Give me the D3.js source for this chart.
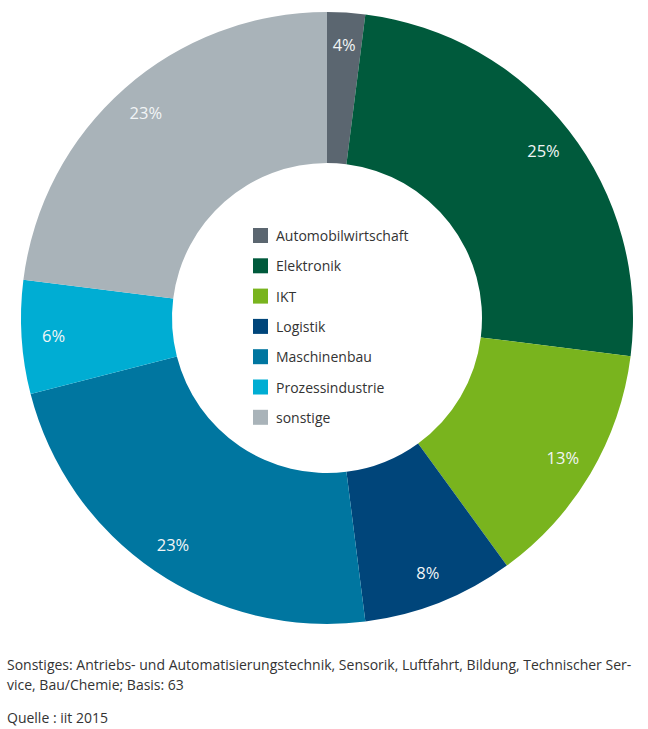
<!DOCTYPE html>
<html>
<head>
<meta charset="UTF-8">
<title>Branchen</title>
<script src="https://cdn.jsdelivr.net/npm/d3@7"></script>
<style>
    body { margin: 0; padding: 0; background: #fff; }
    svg { display: block; font-family: "Open Sans", Lato, sans-serif; }
</style>
</head>
<body>
<div id="chart"></div>
<script>
// categories and colours, in clockwise order from 12 o'clock
const categories = ["Automobilwirtschaft", "Elektronik", "IKT", "Logistik", "Maschinenbau", "Prozessindustrie", "sonstige"];
const colors = ["#5b6670", "#005a3c", "#79b41e", "#00457a", "#0076a0", "#00add3", "#a9b3b9"];
// slice sizes as drawn (the Automobil slice is drawn narrower than its label says)
const shares = [2, 25, 13, 8, 23, 6, 23];
// printed labels
const labels = ["4%", "25%", "13%", "8%", "23%", "6%", "23%"];

const footnote = [
    "Sonstiges: Antriebs- und Automatisierungstechnik, Sensorik, Luftfahrt, Bildung, Technischer Ser-",
    "vice, Bau/Chemie; Basis: 63"
];
const source = "Quelle : iit 2015";

const width = 648, height = 729;
const cx = 327, cy = 318;
const outerR = 306, innerR = 155, labelR = 274;

const svg = d3.select("#chart").append("svg")
    .attr("width", width)
    .attr("height", height);

const data = categories.map((c, i) => ({ name: c, value: shares[i], color: colors[i], label: labels[i] }));

const pie = d3.pie().sort(null).value(d => d.value);
const arc = d3.arc().innerRadius(innerR).outerRadius(outerR);
const labelArc = d3.arc().innerRadius(labelR).outerRadius(labelR);

const g = svg.append("g").attr("transform", `translate(${cx},${cy})`);
const arcs = pie(data);

g.selectAll("path")
    .data(arcs)
    .join("path")
    .attr("d", arc)
    .attr("fill", d => d.data.color);

g.selectAll("text.pct")
    .data(arcs)
    .join("text")
    .attr("class", "pct")
    .attr("transform", d => `translate(${labelArc.centroid(d)})`)
    .attr("text-anchor", "middle")
    .attr("dominant-baseline", "central")
    .attr("fill", "#f2f5f6")
    .attr("font-size", 16.5)
    .text(d => d.data.label);

// legend inside the hole
const legend = svg.append("g").attr("transform", "translate(253,228)");
const row = legend.selectAll("g")
    .data(data)
    .join("g")
    .attr("transform", (d, i) => `translate(0,${i * 30.3})`);
row.append("rect")
    .attr("width", 15)
    .attr("height", 15)
    .attr("fill", d => d.color);
row.append("text")
    .attr("x", 23)
    .attr("y", 7.5)
    .attr("dominant-baseline", "central")
    .attr("font-size", 14)
    .attr("fill", "#333")
    .text(d => d.name);

// footnote and source
svg.append("g").selectAll("text")
    .data(footnote)
    .join("text")
    .attr("x", 7)
    .attr("y", (d, i) => 670 + i * 20)
    .attr("font-size", 14)
    .attr("fill", "#333")
    .text(d => d);

svg.append("text")
    .attr("x", 7)
    .attr("y", 723)
    .attr("font-size", 14)
    .attr("fill", "#333")
    .text(source);
</script>
</body>
</html>
